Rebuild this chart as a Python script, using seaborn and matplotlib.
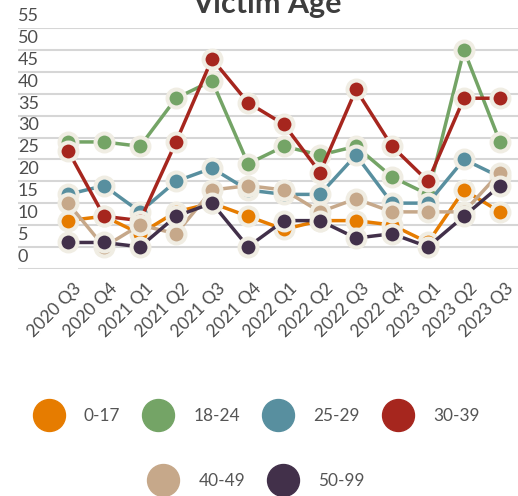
import pandas as pd
import seaborn as sns
import matplotlib.pyplot as plt
from matplotlib.lines import Line2D
from matplotlib import transforms

quarters = ['2020 Q3', '2020 Q4', '2021 Q1', '2021 Q2', '2021 Q3', '2021 Q4', '2022 Q1',
            '2022 Q2', '2022 Q3', '2022 Q4', '2023 Q1', '2023 Q2', '2023 Q3']
age_0_17 = [11, 12, 8, 13, 15, 12, 9, 11, 11, 10, 6, 18, 13]
age_18_24 = [29, 29, 28, 39, 43, 24, 28, 26, 28, 21, 17, 50, 29]
age_25_29 = [17, 19, 13, 20, 23, 18, 17, 17, 26, 15, 15, 25, 21]
age_30_39 = [27, 12, 11, 29, 48, 38, 33, 22, 41, 28, 20, 39, 39]
age_40_49 = [15, 5, 10, 8, 18, 19, 18, 13, 16, 13, 13, 13, 22]
age_50_99 = [6, 6, 5, 12, 15, 5, 11, 11, 7, 8, 5, 12, 19]

groups = ['0-17', '18-24', '25-29', '30-39', '40-49', '50-99']
colors = ['#e67c00', '#74a466', '#588f9f', '#a6261e', '#c6a88a', '#42304a']
yticks = list(range(0, 60, 5))

series = [age_0_17, age_18_24, age_25_29, age_30_39, age_40_49, age_50_99]
df = pd.concat([pd.DataFrame({'quarter': quarters, 'victims': vals, 'age': g})
                for g, vals in zip(groups, series)])

sns.set_style('white')
plt.rcParams['font.family'] = ['Lato', 'DejaVu Sans']

fig = plt.figure(figsize=(5.18, 4.96), dpi=100)
ax = fig.add_axes([18 / 518, 1 - 268.7 / 496, 500 / 518, 240.4 / 496])

sns.lineplot(data=df, x='quarter', y='victims', hue='age', palette=colors, sort=False,
             marker='o', markersize=12.9, markeredgecolor='#f0ede3', markeredgewidth=2.9,
             linewidth=2.5, legend=False, ax=ax)

ax.set_xlim(-1.39, 12.5)
ax.set_ylim(0, 55)
ax.set_yticks(yticks)
ax.yaxis.grid(True, color='#d6d6d6', linewidth=1.5)
ax.set_axisbelow(True)
for s in ax.spines.values():
    s.set_visible(False)
ax.set_xlabel('')
ax.set_ylabel('')
ax.tick_params(axis='both', length=0)

# y labels sit just above their grid lines
ax.set_yticklabels([])
ylab_tr = transforms.blended_transform_factory(ax.transAxes, ax.transData) + \
    transforms.ScaledTranslation(0, 3 / 72, fig.dpi_scale_trans)
for v in yticks:
    ax.text(0, v, str(v), transform=ylab_tr, ha='left', va='bottom',
            fontsize=13, color='#4d4d4d', clip_on=False)

ax.set_xticks(range(len(quarters)))
ax.set_xticklabels(quarters, rotation=45, ha='right', va='center',
                   rotation_mode='anchor', fontsize=12.5, color='#4d4d4d')
offset = transforms.ScaledTranslation(8 / 72, -9 / 72, fig.dpi_scale_trans)
for lbl in ax.get_xticklabels():
    lbl.set_transform(lbl.get_transform() + offset)

fig.text(267 / 518, 1 - 13 / 496, 'Victim Age', ha='center', va='baseline',
         fontsize=22, fontweight='bold', color='#3d3d3d')

handles = [Line2D([], [], marker='o', ls='', color=c, markersize=23) for c in colors]
leg_kw = dict(loc='center', frameon=False, fontsize=12.4, handlelength=1.9,
              handletextpad=1.1, columnspacing=1.25, labelcolor='#555555')
leg1 = fig.legend(handles[:4], groups[:4], ncol=4, bbox_to_anchor=(0.494, 1 - 416 / 496), **leg_kw)
leg2 = fig.legend(handles[4:], groups[4:], ncol=2, bbox_to_anchor=(0.494, 1 - 481 / 496), **leg_kw)

fig.savefig('out.png', dpi=100, facecolor='white')
